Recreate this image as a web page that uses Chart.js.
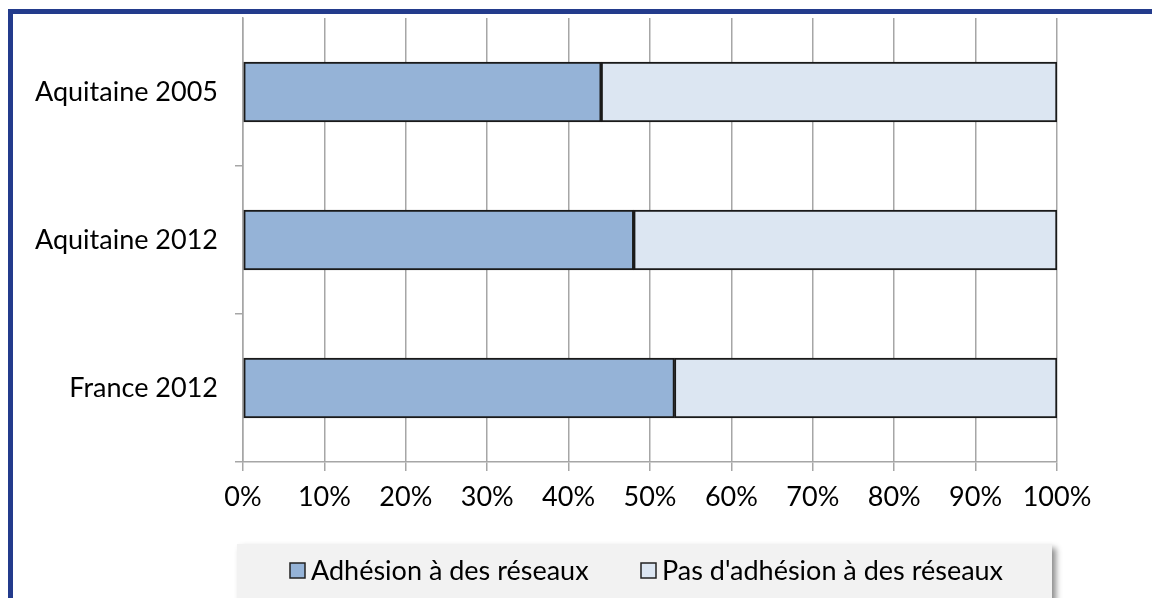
<!DOCTYPE html>
<html>
<head>
<meta charset="utf-8">
<script src="https://cdn.jsdelivr.net/npm/chart.js@4"></script>
<style>
  body { margin: 0; background: #fff; }
  #wrap { position: relative; width: 1152px; height: 598px; overflow: hidden; }
  #frame { position: absolute; left: 8px; top: 9px; width: 1200px; height: 700px;
           border-top: 5px solid #233b8c; border-left: 5px solid #233b8c; box-sizing: border-box; }
  canvas { position: absolute; left: 0; top: 0; }
</style>
</head>
<body>
<div id="wrap">
  <div id="frame"></div>
  <canvas id="myChart" width="1152" height="598"></canvas>
</div>
<script>
const categories = ['Aquitaine 2005', 'Aquitaine 2012', 'France 2012'];
const adhesion = [44, 48, 53];
const pasAdhesion = [56, 52, 47];
const seriesNames = ['Adhésion à des réseaux', "Pas d'adhésion à des réseaux"];
const tickValues = [0, 10, 20, 30, 40, 50, 60, 70, 80, 90, 100];

const FONT = 'Lato, "Open Sans", sans-serif';

// legend drawn by hand so it can sit in its grey box like the original
const legendBox = {
  id: 'legendBox',
  afterDraw(chart) {
    const c = chart.ctx;
    c.save();
    c.shadowColor = 'rgba(0,0,0,0.45)';
    c.shadowBlur = 6;
    c.shadowOffsetX = 4;
    c.shadowOffsetY = 4;
    c.fillStyle = '#f2f2f2';
    c.fillRect(237, 544, 815, 70);
    c.restore();

    c.save();
    c.font = '27px ' + FONT;
    c.textBaseline = 'middle';
    c.fillStyle = '#000';
    const xs = [290, 641];
    chart.data.datasets.forEach((ds, i) => {
      const x = xs[i];
      c.fillStyle = ds.backgroundColor;
      c.fillRect(x, 563, 15, 15);
      c.strokeStyle = '#222';
      c.lineWidth = 1.5;
      c.strokeRect(x, 563, 15, 15);
      c.fillStyle = '#000';
      c.fillText(ds.label, x + 21, 571);
    });
    c.restore();
  }
};

const ctx = document.getElementById('myChart');

let chart = new Chart(ctx, {
  type: 'bar',
  data: {
    labels: categories,
    datasets: [{
      label: seriesNames[0],
      data: adhesion,
      backgroundColor: '#95b3d7',
      borderColor: '#1a1a1a',
      borderWidth: 2,
      borderSkipped: false,
      barThickness: 60,
    }, {
      label: seriesNames[1],
      data: pasAdhesion,
      backgroundColor: '#dce6f2',
      borderColor: '#1a1a1a',
      borderWidth: 2,
      borderSkipped: false,
      barThickness: 60,
    }]
  },
  options: {
    indexAxis: 'y',
    responsive: false,
    animation: false,
    layout: { padding: { top: 18, right: 95, bottom: 65, left: 0 } },
    plugins: {
      legend: { display: false },
      tooltip: { enabled: false }
    },
    scales: {
      x: {
        stacked: true,
        min: 0,
        max: 100,
        afterBuildTicks: (s) => { s.ticks = tickValues.map(v => ({ value: v })); },
        afterFit: (s) => { s.height = 71; },
        ticks: {
          callback: (v) => v + '%',
          color: '#000',
          font: { family: FONT, size: 27 },
          padding: 10,
          maxRotation: 0,
        },
        grid: { color: '#a6a6a6', lineWidth: 1.5, tickLength: 9 },
        border: { color: '#a6a6a6', width: 1.5 }
      },
      y: {
        stacked: true,
        afterFit: (s) => { s.width = 243; s.paddingTop = 0; s.paddingBottom = 0; },
        ticks: {
          color: '#000',
          font: { family: FONT, size: 27 },
          padding: 17,
        },
        grid: {
          drawOnChartArea: false,
          color: (c) => c.index === 0 ? 'rgba(0,0,0,0)' : '#a6a6a6',
          lineWidth: 1.5,
          tickLength: 8,
          offset: true
        },
        border: { color: '#a6a6a6', width: 1.5 }
      }
    }
  },
  plugins: [legendBox]
});
</script>
</body>
</html>
